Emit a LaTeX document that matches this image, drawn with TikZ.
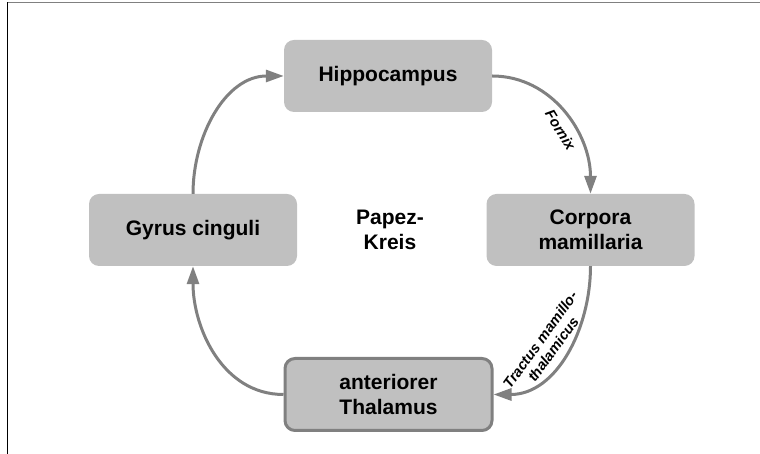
\documentclass[tikz,border=0pt]{standalone}
\usepackage{fontspec}
\setmainfont{Liberation Sans}
\usetikzlibrary{arrows.meta, positioning}
\definecolor{boxgrau}{HTML}{C0C0C0}
\definecolor{pfeilgrau}{HTML}{808080}

\begin{document}
\begin{tikzpicture}[
    x=1pt, y=1pt,
    hirn/.style={
        rectangle,
        fill=boxgrau,
        rounded corners=10pt,
        minimum width=208pt,
        minimum height=72pt,
        align=center,
        font=\fontsize{21}{25}\selectfont\bfseries
    },
    bahn/.style={-{Triangle[length=18pt,width=12pt]}, color=pfeilgrau, line width=3pt},
    bahnlabel/.style={sloped, align=center, text=black, inner sep=6pt, font=\fontsize{14.5}{16}\selectfont\bfseries\itshape}
]
\useasboundingbox (0,0) rectangle (760,454);

% Rahmen
\draw[pfeilgrau, line width=1.5pt] (7,451.3) -- (760,451.3);
\draw[black, line width=1pt] (7,0) -- (7,452);

\node[hirn] (hip) at (388,378) {Hippocampus};
\node[hirn] (gyr) at (193,224) {Gyrus cinguli};
\node[hirn] (corp) at (590.5,224) {Corpora\\mamillaria};
\node[hirn, draw=pfeilgrau, line width=3pt, minimum width=207pt, minimum height=72pt] (thal) at (388.5,59.5) {anteriorer\\Thalamus};
\node[font=\fontsize{21}{25}\selectfont\bfseries, align=center] (papez) at (390,224) {Papez-\\Kreis};

\draw[bahn] (hip.east) to[out=0, in=90] node[bahnlabel, below, pos=0.58] {Fornix} (corp.north);
\draw[bahn] (corp.south) to[out=-90, in=0] node[bahnlabel, above, pos=0.52] {Tractus mamillo-\\thalamicus} (thal.east);
\draw[bahn] (thal.west) to[out=180, in=-90] (gyr.south);
\draw[bahn] (gyr.north) to[out=90, in=180] (hip.west);

\end{tikzpicture}
\end{document}
